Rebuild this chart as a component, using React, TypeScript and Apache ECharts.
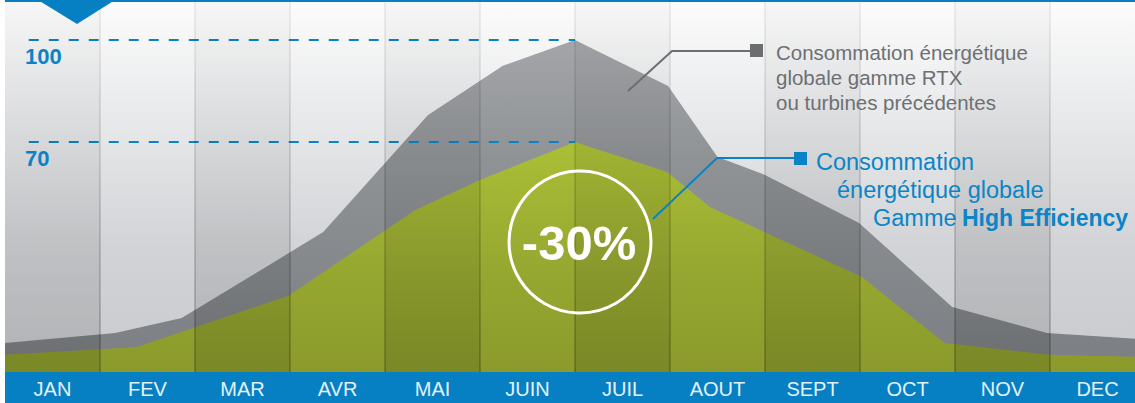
import React, { useEffect, useRef } from 'react';
import * as echarts from 'echarts';

// Month categories (one column each)
const months = ['JAN', 'FEV', 'MAR', 'AVR', 'MAI', 'JUIN', 'JUIL', 'AOUT', 'SEPT', 'OCT', 'NOV', 'DEC'];

// x in month units (0 = left edge of JAN column, 1 = left edge of FEV, ...), y = consumption index
const rtxX = [0, 1.16, 1.86, 3.35, 4.45, 5.24, 6.0, 6.98, 7.5, 8.0, 8.99, 9.97, 10.97, 11.9];
const rtxY = [10.9, 13.8, 18.2, 43.5, 77.9, 92.4, 100, 86.5, 65.6, 60.3, 46.2, 21.5, 13.8, 12.1];

const heX = [0, 1.39, 2.98, 4.32, 5.0, 6.0, 6.97, 7.42, 9.02, 9.89, 10.99, 11.9];
const heY = [7.4, 9.7, 24.7, 50.0, 58.8, 70, 61.2, 50.9, 30.3, 10.9, 7.4, 6.8];

// Reference levels (dashed lines + labels)
const levels = [100, 70];
const levelLabels = ['100', '70'];
const dashFromX = 0.25;
const dashToX = 6;

const grayLegend = ['Consommation énergétique', 'globale gamme RTX', 'ou turbines précédentes'];
const blueLegend = ['Consommation', 'énergétique globale'];
const blueLegendLast = ['Gamme', 'High Efficiency'];
const badge = '-30%';

// the last (DEC) column is cut by the picture's right edge
const xMax = 12 - 10 / 95;

export default function App() {
  const ref = useRef<HTMLDivElement>(null);

  useEffect(() => {
    const chart = echarts.init(ref.current!, null, { renderer: 'svg' });
    const font = 'Liberation Sans, Arial, Helvetica, sans-serif';
    const BLUE = '#0a83c6';
    const lg = (stops: [number, string][]) =>
      new echarts.graphic.LinearGradient(0, 0, 0, 1, stops.map(([offset, color]) => ({ offset, color })));

    chart.setOption({
      animation: false,
      grid: { left: 5, right: 0, top: 40, bottom: 23 },
      xAxis: { type: 'value', min: 0, max: xMax, show: false },
      yAxis: { type: 'value', min: 0, max: 100, show: false },
      series: [
        {
          type: 'line',
          data: rtxX.map((x, i) => [x, rtxY[i]]),
          symbol: 'none',
          lineStyle: { width: 0 },
          areaStyle: {
            opacity: 1,
            color: lg([
              [0, '#a3a5a8'],
              [0.35, '#909396'],
              [1, '#7a7d81'],
            ]),
          },
          z: 2,
        },
        {
          type: 'line',
          data: heX.map((x, i) => [x, heY[i]]),
          symbol: 'none',
          lineStyle: { width: 0 },
          areaStyle: {
            opacity: 1,
            color: lg([
              [0, '#abbf36'],
              [0.5, '#98a931'],
              [1, '#8a992b'],
            ]),
          },
          z: 3,
          markLine: {
            silent: true,
            symbol: ['none', 'none'],
            label: { show: false },
            lineStyle: { color: BLUE, width: 2, type: [10, 10] },
            data: levels.map((v) => [{ coord: [dashFromX, v] }, { coord: [dashToX, v] }]),
          },
        },
      ],
    });

    const px = (v: number) => chart.convertToPixel({ xAxisIndex: 0 }, v) as number;
    const py = (v: number) => chart.convertToPixel({ yAxisIndex: 0 }, v) as number;

    const barTop = 372;
    const x0 = px(0);
    const xEnd = px(xMax);
    const els: any[] = [];

    // background
    els.push({
      type: 'rect',
      z: -5,
      shape: { x: x0, y: 0, width: xEnd - x0, height: barTop },
      style: {
        fill: lg([
          [0, '#fcfcfc'],
          [0.35, '#e6e7e9'],
          [0.67, '#d2d3d6'],
          [1, '#c9cacd'],
        ]),
      },
    });

    // alternate darker columns
    months.forEach((_, i) => {
      if (i % 2 === 0) {
        els.push({
          type: 'rect',
          z: 10,
          silent: true,
          shape: { x: px(i), y: 0, width: Math.min(px(i + 1), xEnd) - px(i), height: barTop },
          style: {
            fill: lg([
              [0, 'rgba(0,0,0,0.02)'],
              [1, 'rgba(0,0,0,0.12)'],
            ]),
          },
        });
      }
    });
    // column separators
    for (let b = 1; b < months.length; b++) {
      els.push({
        type: 'rect',
        z: 11,
        silent: true,
        shape: { x: px(b) - 0.75, y: 0, width: 1.5, height: barTop },
        style: {
          fill: lg([
            [0, 'rgba(0,0,0,0.07)'],
            [1, 'rgba(0,0,0,0.26)'],
          ]),
        },
      });
    }

    // bottom blue band
    els.push({
      type: 'rect',
      z: 12,
      shape: { x: x0, y: barTop, width: xEnd - x0, height: 403 - barTop },
      style: { fill: '#0680c3' },
    });
    // month labels centred in their columns
    months.forEach((m, i) => {
      els.push({
        type: 'text',
        z: 13,
        x: px(i + 0.5),
        y: 389,
        style: {
          text: m,
          fill: '#e4f1fa',
          fontSize: 20,
          fontFamily: font,
          align: 'center',
          verticalAlign: 'middle',
          textAlign: 'center',
          textVerticalAlign: 'middle',
        },
      });
    });
    // top line & triangle
    els.push({
      type: 'rect',
      z: 12,
      shape: { x: x0, y: 0, width: xEnd - x0, height: 2 },
      style: { fill: '#0680c3' },
    });
    els.push({
      type: 'polygon',
      z: 12,
      shape: { points: [[38, 0], [115, 0], [77, 24]] },
      style: { fill: '#0680c3' },
    });

    // level labels
    levels.forEach((v, i) => {
      els.push({
        type: 'text',
        z: 15,
        x: 25,
        y: py(v) + 16,
        style: {
          text: levelLabels[i],
          fill: BLUE,
          fontSize: 22,
          fontWeight: 'bold',
          fontFamily: font,
          align: 'left',
          verticalAlign: 'middle',
          textAlign: 'left',
          textVerticalAlign: 'middle',
        },
      });
    });

    // gray legend
    els.push({
      type: 'polyline',
      z: 15,
      shape: { points: [[628, 91], [672, 51], [752, 51]] },
      style: { stroke: '#6c6f72', lineWidth: 2, fill: 'none' },
    });
    els.push({
      type: 'rect',
      z: 15,
      shape: { x: 750, y: 44, width: 13, height: 13 },
      style: { fill: '#6b6e71' },
    });
    grayLegend.forEach((t, i) => {
      els.push({
        type: 'text',
        z: 15,
        x: 776,
        y: 52 + i * 25,
        style: {
          text: t,
          fill: '#6d7073',
          fontSize: 20.5,
          fontFamily: font,
          align: 'left',
          verticalAlign: 'middle',
          textAlign: 'left',
          textVerticalAlign: 'middle',
        },
      });
    });

    // blue legend
    els.push({
      type: 'polyline',
      z: 15,
      shape: { points: [[653, 219], [717, 158], [796, 158]] },
      style: { stroke: BLUE, lineWidth: 2, fill: 'none' },
    });
    els.push({
      type: 'rect',
      z: 15,
      shape: { x: 794, y: 152, width: 13, height: 13 },
      style: { fill: BLUE },
    });
    const blueX = [816, 837];
    blueLegend.forEach((t, i) => {
      els.push({
        type: 'text',
        z: 15,
        x: blueX[i],
        y: 162 + i * 28,
        style: {
          text: t,
          fill: '#0a85c7',
          fontSize: 23.5,
          fontFamily: font,
          align: 'left',
          verticalAlign: 'middle',
          textAlign: 'left',
          textVerticalAlign: 'middle',
        },
      });
    });
    els.push({
      type: 'text',
      z: 15,
      x: 873,
      y: 218,
      style: {
        text: blueLegendLast[0],
        fill: '#0a85c7',
        fontSize: 23.5,
        fontFamily: font,
        align: 'left',
        verticalAlign: 'middle',
        textAlign: 'left',
        textVerticalAlign: 'middle',
      },
    });
    els.push({
      type: 'text',
      z: 15,
      x: 962,
      y: 218,
      style: {
        text: blueLegendLast[1],
        fill: '#0a85c7',
        fontSize: 23,
        fontWeight: 'bold',
        fontFamily: font,
        align: 'left',
        verticalAlign: 'middle',
        textAlign: 'left',
        textVerticalAlign: 'middle',
      },
    });

    // -30% badge
    els.push({
      type: 'circle',
      z: 16,
      shape: { cx: 580, cy: 242, r: 71 },
      style: { fill: 'none', stroke: '#ffffff', lineWidth: 3 },
    });
    els.push({
      type: 'text',
      z: 16,
      x: 579,
      y: 243,
      style: {
        text: badge,
        fill: '#ffffff',
        fontSize: 49,
        fontWeight: 'bold',
        fontFamily: font,
        align: 'center',
        verticalAlign: 'middle',
        textAlign: 'center',
        textVerticalAlign: 'middle',
      },
    });

    chart.setOption({ graphic: { elements: els } });

    return () => chart.dispose();
  }, []);

  return (
    <div
      ref={ref}
      style={{ position: 'absolute', left: 0, top: 0, width: 1135, height: 403, background: '#ffffff' }}
    />
  );
}
